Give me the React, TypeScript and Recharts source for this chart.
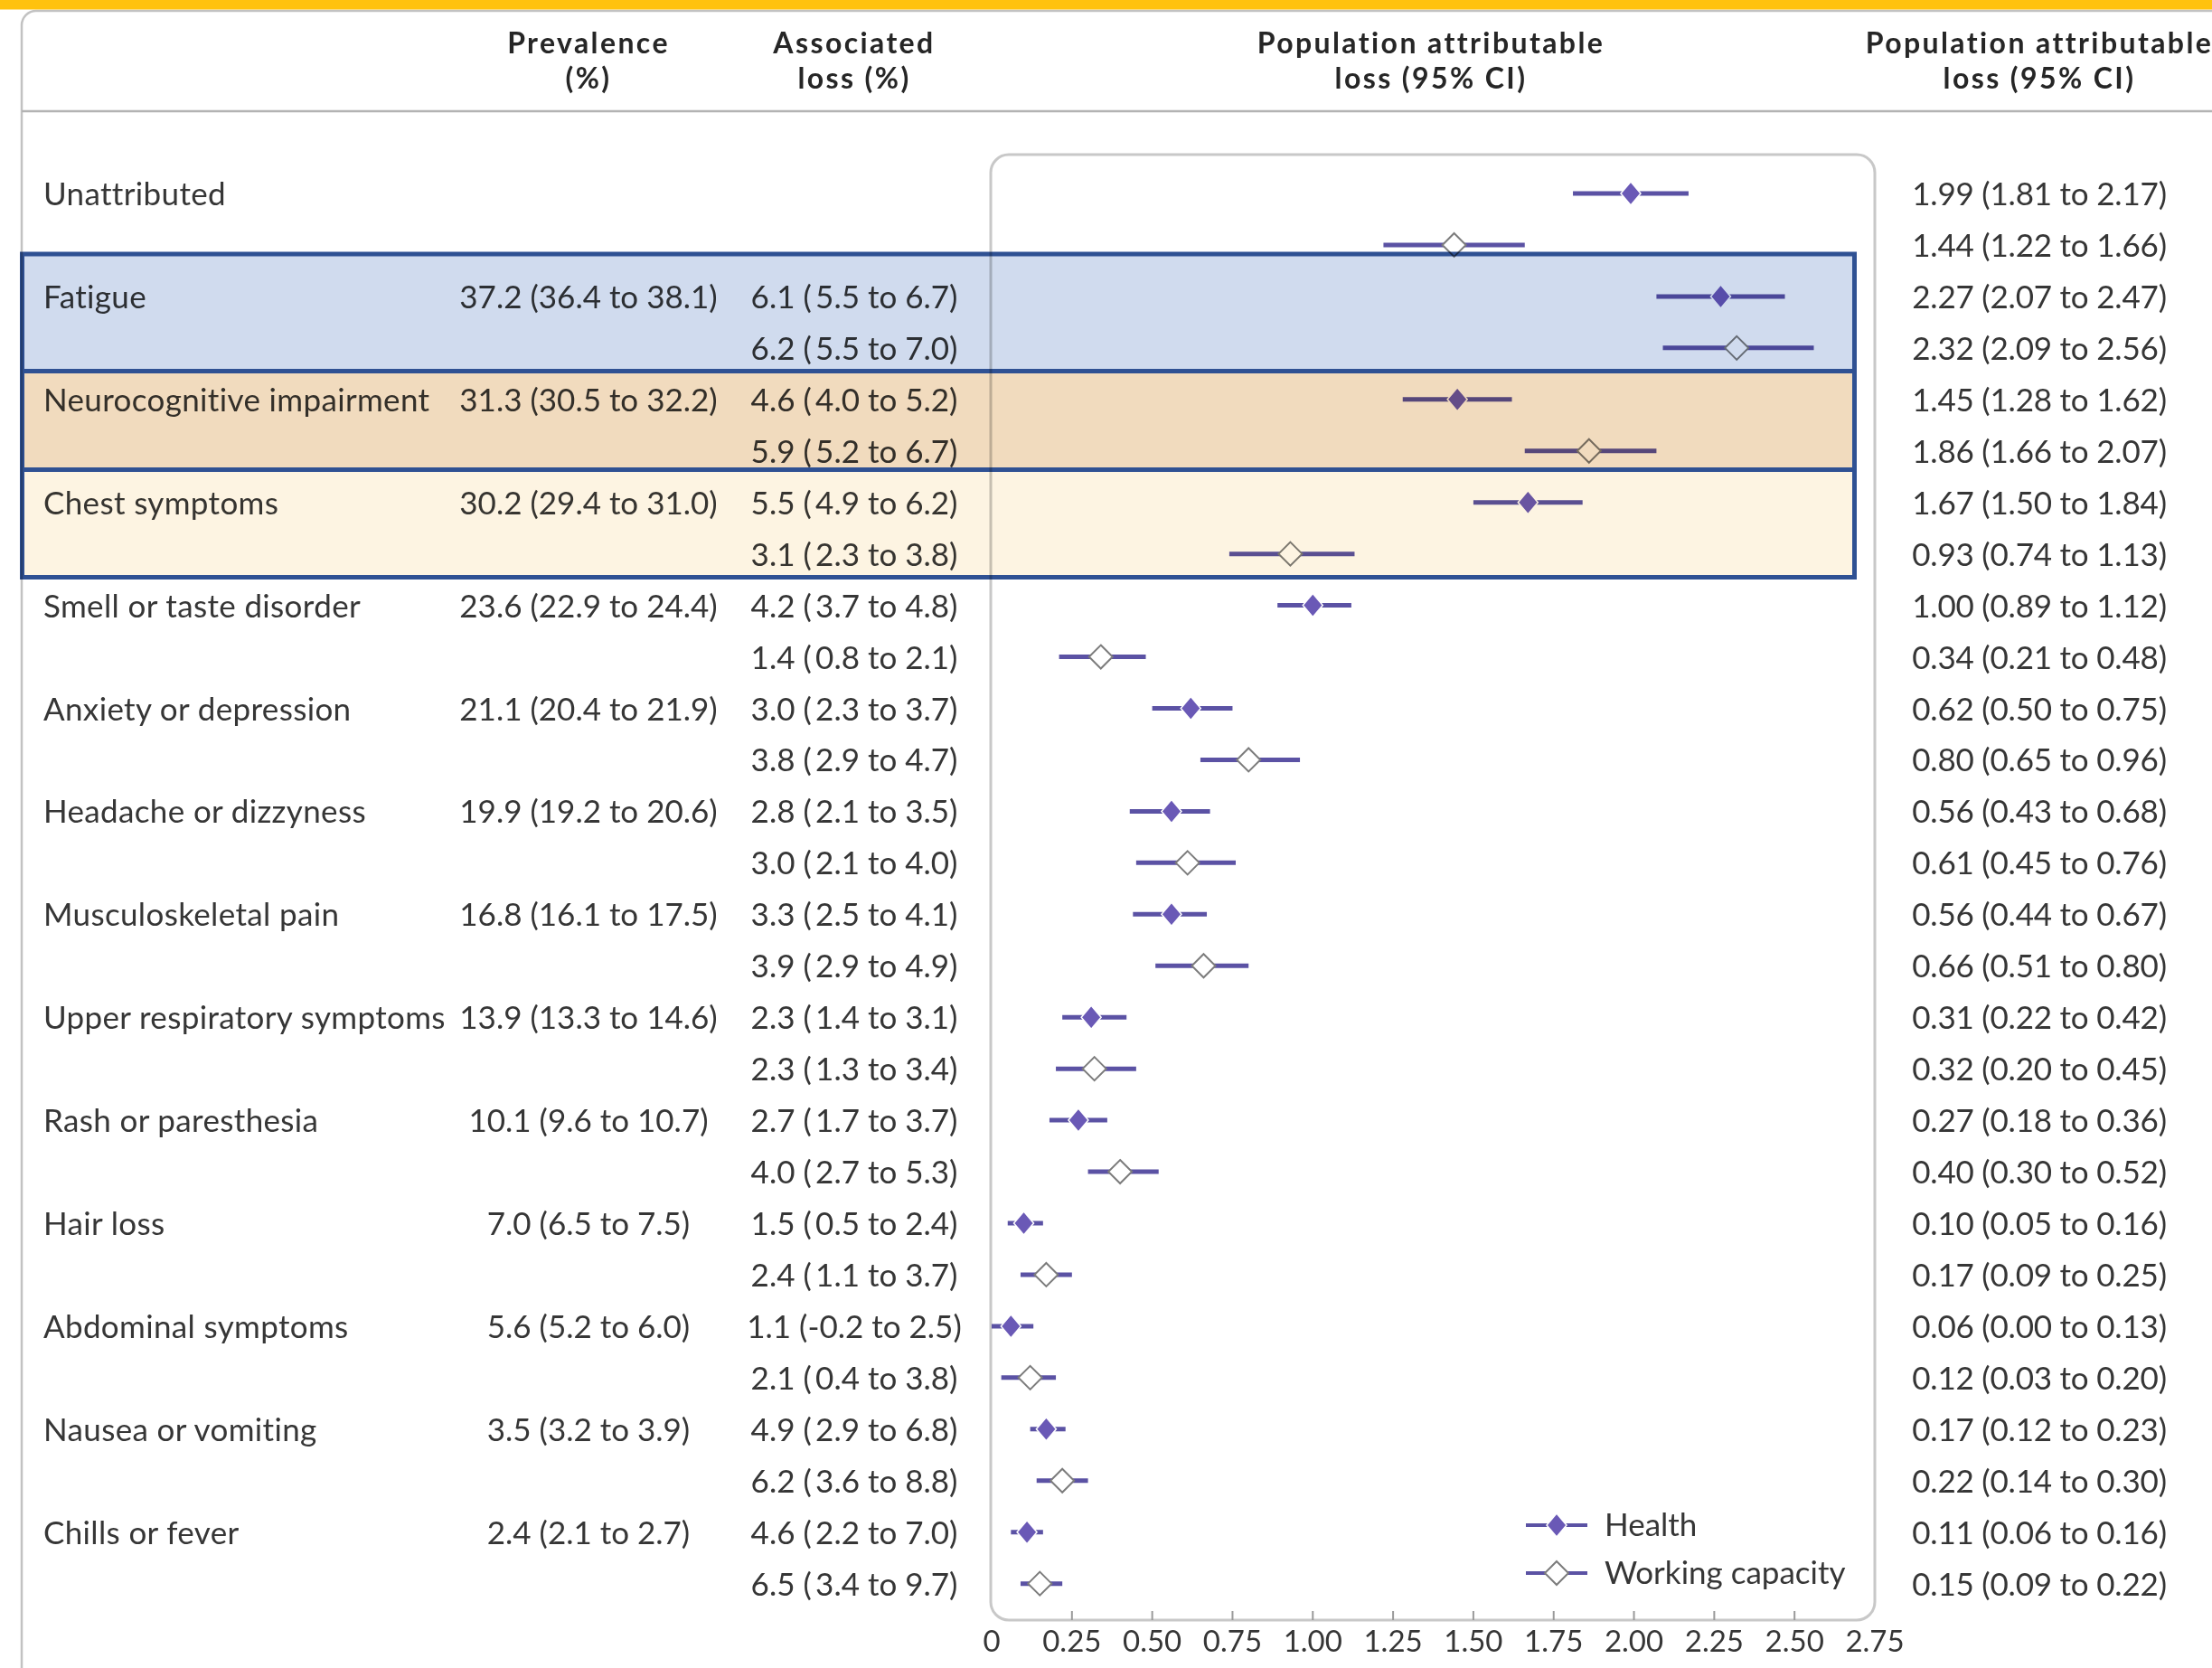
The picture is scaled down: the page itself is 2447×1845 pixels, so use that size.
import React from 'react';
import { ScatterChart, Scatter, XAxis, YAxis, ErrorBar, Legend } from 'recharts';

// ---------- data ----------
const categories = [
  'Unattributed',
  'Fatigue',
  'Neurocognitive impairment',
  'Chest symptoms',
  'Smell or taste disorder',
  'Anxiety or depression',
  'Headache or dizzyness',
  'Musculoskeletal pain',
  'Upper respiratory symptoms',
  'Rash or paresthesia',
  'Hair loss',
  'Abdominal symptoms',
  'Nausea or vomiting',
  'Chills or fever',
];

// prevalence (%) [estimate, low, high]
const prevalence: (number[] | null)[] = [
  null, [37.2, 36.4, 38.1], [31.3, 30.5, 32.2], [30.2, 29.4, 31.0], [23.6, 22.9, 24.4],
  [21.1, 20.4, 21.9], [19.9, 19.2, 20.6], [16.8, 16.1, 17.5], [13.9, 13.3, 14.6],
  [10.1, 9.6, 10.7], [7.0, 6.5, 7.5], [5.6, 5.2, 6.0], [3.5, 3.2, 3.9], [2.4, 2.1, 2.7],
];

// associated loss (%) for health
const assocHealth: (number[] | null)[] = [
  null, [6.1, 5.5, 6.7], [4.6, 4.0, 5.2], [5.5, 4.9, 6.2], [4.2, 3.7, 4.8],
  [3.0, 2.3, 3.7], [2.8, 2.1, 3.5], [3.3, 2.5, 4.1], [2.3, 1.4, 3.1],
  [2.7, 1.7, 3.7], [1.5, 0.5, 2.4], [1.1, -0.2, 2.5], [4.9, 2.9, 6.8], [4.6, 2.2, 7.0],
];

// associated loss (%) for working capacity
const assocWork: (number[] | null)[] = [
  null, [6.2, 5.5, 7.0], [5.9, 5.2, 6.7], [3.1, 2.3, 3.8], [1.4, 0.8, 2.1],
  [3.8, 2.9, 4.7], [3.0, 2.1, 4.0], [3.9, 2.9, 4.9], [2.3, 1.3, 3.4],
  [4.0, 2.7, 5.3], [2.4, 1.1, 3.7], [2.1, 0.4, 3.8], [6.2, 3.6, 8.8], [6.5, 3.4, 9.7],
];

// population attributable loss, health
const palHealth: number[][] = [
  [1.99, 1.81, 2.17], [2.27, 2.07, 2.47], [1.45, 1.28, 1.62], [1.67, 1.50, 1.84],
  [1.00, 0.89, 1.12], [0.62, 0.50, 0.75], [0.56, 0.43, 0.68], [0.56, 0.44, 0.67],
  [0.31, 0.22, 0.42], [0.27, 0.18, 0.36], [0.10, 0.05, 0.16], [0.06, 0.00, 0.13],
  [0.17, 0.12, 0.23], [0.11, 0.06, 0.16],
];

// population attributable loss, working capacity
const palWork: number[][] = [
  [1.44, 1.22, 1.66], [2.32, 2.09, 2.56], [1.86, 1.66, 2.07], [0.93, 0.74, 1.13],
  [0.34, 0.21, 0.48], [0.80, 0.65, 0.96], [0.61, 0.45, 0.76], [0.66, 0.51, 0.80],
  [0.32, 0.20, 0.45], [0.40, 0.30, 0.52], [0.17, 0.09, 0.25], [0.12, 0.03, 0.20],
  [0.22, 0.14, 0.30], [0.15, 0.09, 0.22],
];

const xTicks = [0, 0.25, 0.5, 0.75, 1, 1.25, 1.5, 1.75, 2, 2.25, 2.5, 2.75];
const xTickLabels = ['0', '0.25', '0.50', '0.75', '1.00', '1.25', '1.50', '1.75', '2.00', '2.25', '2.50', '2.75'];

const seriesNames = ['Health', 'Working capacity'];

// highlighted categories (index into categories) and their fills
const highlightCats = [1, 2, 3];
const highlightFills = ['#d0dbee', '#f1dbbe', '#fdf4e2'];

// ---------- layout ----------
const W = 2447;
const H = 1845;
const PLOT = { left: 1097, right: 2074, top: 172, bottom: 1792 };
const ROW0 = 214;
const PITCH = 56.95;
const Y_MIN = -(ROW0 - PLOT.top) / PITCH;
const Y_MAX = Y_MIN + (PLOT.bottom - PLOT.top) / PITCH;
const BOX_EDGES = [281, 410.5, 519.5, 638.5];
const BOX_X = [24.5, 2051.5];

const COL_LABEL = 48;
const COL_PREV = 651;
const COL_ASSOC = 945;
const COL_PAL = 2256;

const FONT = 'Lato, "Open Sans", sans-serif';
const TEXT = '#363636';
const FS = 35;
const LINE = '#5b52a4';
const HEALTH_FILL = '#6a59b6';
const WC_STROKE = '#7c7c7c';

// ---------- helpers ----------
const f1 = (v: number) => v.toFixed(1);
const f2 = (v: number) => v.toFixed(2);
const prevText = (a: number[]) => `${f1(a[0])} (${f1(a[1])} to ${f1(a[2])})`;
const assocText = (a: number[]) => `${f1(a[0])} (${a[1] < 0 ? '' : '\u2009'}${f1(a[1])} to ${f1(a[2])})`;
const palText = (a: number[]) => `${f2(a[0])} (${f2(a[1])} to ${f2(a[2])})`;

const healthData = palHealth.map((p, i) => ({ row: 2 * i, x: p[0], err: [p[0] - p[1], p[2] - p[0]] }));
const workData = palWork.map((p, i) => ({ row: 2 * i + 1, x: p[0], err: [p[0] - p[1], p[2] - p[0]] }));
const rowTicks = categories.flatMap((_, i) => [2 * i, 2 * i + 1]);

const textProps = { fontFamily: FONT, fontSize: FS, fill: TEXT };

const RowTick = (props: any) => {
  const { y, payload } = props;
  const r = payload.value as number;
  const ci = Math.floor(r / 2);
  const isHealth = r % 2 === 0;
  const base = y + 13;
  const assoc = isHealth ? assocHealth[ci] : assocWork[ci];
  const pal = isHealth ? palHealth[ci] : palWork[ci];
  return (
    <g>
      {isHealth && (
        <text x={COL_LABEL} y={base} {...textProps} letterSpacing={0.35}>{categories[ci]}</text>
      )}
      {isHealth && prevalence[ci] && (
        <text x={COL_PREV} y={base} textAnchor="middle" {...textProps}>{prevText(prevalence[ci] as number[])}</text>
      )}
      {assoc && (
        <text x={COL_ASSOC} y={base} textAnchor="middle" {...textProps}>{assocText(assoc)}</text>
      )}
      <text x={COL_PAL} y={base} textAnchor="middle" {...textProps} letterSpacing={-0.2}>{palText(pal)}</text>
    </g>
  );
};

const XTick = (props: any) => {
  const { x, payload, index } = props;
  const v = payload.value as number;
  const inner = v > 0 && v < 2.75;
  return (
    <g>
      {inner && <line x1={x} x2={x} y1={PLOT.bottom - 10} y2={PLOT.bottom} stroke="#9a9a9a" strokeWidth={2} />}
      <text x={x} y={PLOT.bottom + 35} textAnchor="middle" {...textProps} fontSize={33}>
        {xTickLabels[xTicks.indexOf(v)] ?? String(index)}
      </text>
    </g>
  );
};

const Diamond = ({ cx, cy, filled }: any) => {
  if (cx == null || cy == null) return null;
  const w = filled ? 11 : 13;
  const h = 13;
  const pts = `${cx},${cy - h} ${cx + w},${cy} ${cx},${cy + h} ${cx - w},${cy}`;
  return filled ? (
    <polygon points={pts} fill={HEALTH_FILL} stroke="#ffffff" strokeWidth={1.5} />
  ) : (
    <polygon points={pts} fill="#ffffff" stroke={WC_STROKE} strokeWidth={2} />
  );
};

const LegendContent = () => (
  <svg width={440} height={120} style={{ display: 'block' }}>
    {seriesNames.map((name, i) => {
      const cy = 30 + i * 53;
      return (
        <g key={name}>
          <line x1={8} x2={76} y1={cy} y2={cy} stroke={LINE} strokeWidth={4} />
          <Diamond cx={42} cy={cy} filled={i === 0} />
          <text x={95} y={cy + 12} fontFamily={FONT} fontSize={35} fill={TEXT}>{name}</text>
        </g>
      );
    })}
  </svg>
);

export default function App() {
  return (
    <div style={{ position: 'absolute', left: 0, top: 0, width: W, height: H, background: '#ffffff', overflow: 'hidden' }}>
      {/* background: panel, header, plot frame */}
      <svg width={W} height={H} style={{ position: 'absolute', left: 0, top: 0 }}>
        <rect x={0} y={0} width={W} height={H} fill="#ffffff" />
        <rect x={24} y={12} width={2600} height={2200} rx={16} fill="#ffffff" stroke="#c2c2c2" strokeWidth={2.5} />
        <rect x={0} y={0} width={W} height={10.5} fill="#ffc20e" />
        <line x1={24} x2={W} y1={123} y2={123} stroke="#b3b3b3" strokeWidth={2.5} />
        <g fontFamily={FONT} fontSize={32} fontWeight={700} fill="#262626" textAnchor="middle" letterSpacing={2.4}>
          <text x={COL_PREV} y={59}>Prevalence</text>
          <text x={COL_PREV} y={97.5}>(%)</text>
          <text x={COL_ASSOC} y={59}>Associated</text>
          <text x={COL_ASSOC} y={97.5}>loss (%)</text>
          <text x={1583} y={59}>Population attributable</text>
          <text x={1583} y={97.5}>loss (95% CI)</text>
          <text x={COL_PAL} y={59}>Population attributable</text>
          <text x={COL_PAL} y={97.5}>loss (95% CI)</text>
        </g>
        <rect x={PLOT.left - 1} y={PLOT.top - 1} width={PLOT.right - PLOT.left + 1} height={PLOT.bottom - PLOT.top + 1} rx={20} fill="none" stroke="#c8c8c8" strokeWidth={3} />
      </svg>

      <div style={{ position: 'absolute', left: 0, top: 0 }}>
        <ScatterChart width={W} height={H} margin={{ top: PLOT.top, right: W - PLOT.right, bottom: 0, left: 0 }}>
          <XAxis
            type="number"
            dataKey="x"
            domain={[0, 2.75]}
            ticks={xTicks}
            interval={0}
            allowDataOverflow
            height={H - PLOT.bottom}
            axisLine={false}
            tickLine={false}
            tick={<XTick />}
          />
          <YAxis
            type="number"
            dataKey="row"
            domain={[Y_MIN, Y_MAX]}
            reversed
            allowDataOverflow
            ticks={rowTicks}
            interval={0}
            width={PLOT.left}
            axisLine={false}
            tickLine={false}
            tick={<RowTick />}
          />
          <Legend
            layout="vertical"
            align="center"
            verticalAlign="middle"
            content={() => <LegendContent />}
            wrapperStyle={{ left: 1680, top: 1657, width: 440, height: 120 }}
          />
          <Scatter
            name={seriesNames[0]}
            data={healthData}
            isAnimationActive={false}
            shape={(p: any) => <Diamond cx={p.cx} cy={p.cy} filled />}
          >
            <ErrorBar dataKey="err" direction="x" width={0} strokeWidth={5} stroke={LINE} isAnimationActive={false} />
          </Scatter>
          <Scatter
            name={seriesNames[1]}
            data={workData}
            isAnimationActive={false}
            shape={(p: any) => <Diamond cx={p.cx} cy={p.cy} filled={false} />}
          >
            <ErrorBar dataKey="err" direction="x" width={0} strokeWidth={5} stroke={LINE} isAnimationActive={false} />
          </Scatter>
        </ScatterChart>
      </div>

      {/* highlight boxes */}
      <svg width={W} height={H} style={{ position: 'absolute', left: 0, top: 0, pointerEvents: 'none', mixBlendMode: 'multiply' }}>
        {highlightCats.map((c, i) => (
          <rect
            key={categories[c]}
            x={BOX_X[0]}
            y={BOX_EDGES[i]}
            width={BOX_X[1] - BOX_X[0]}
            height={BOX_EDGES[i + 1] - BOX_EDGES[i]}
            fill={highlightFills[i]}
          />
        ))}
        {highlightCats.map((c, i) => (
          <rect
            key={'b' + categories[c]}
            x={BOX_X[0]}
            y={BOX_EDGES[i]}
            width={BOX_X[1] - BOX_X[0]}
            height={BOX_EDGES[i + 1] - BOX_EDGES[i]}
            fill="none"
            stroke="#2f5193"
            strokeWidth={5}
          />
        ))}
      </svg>
    </div>
  );
}
